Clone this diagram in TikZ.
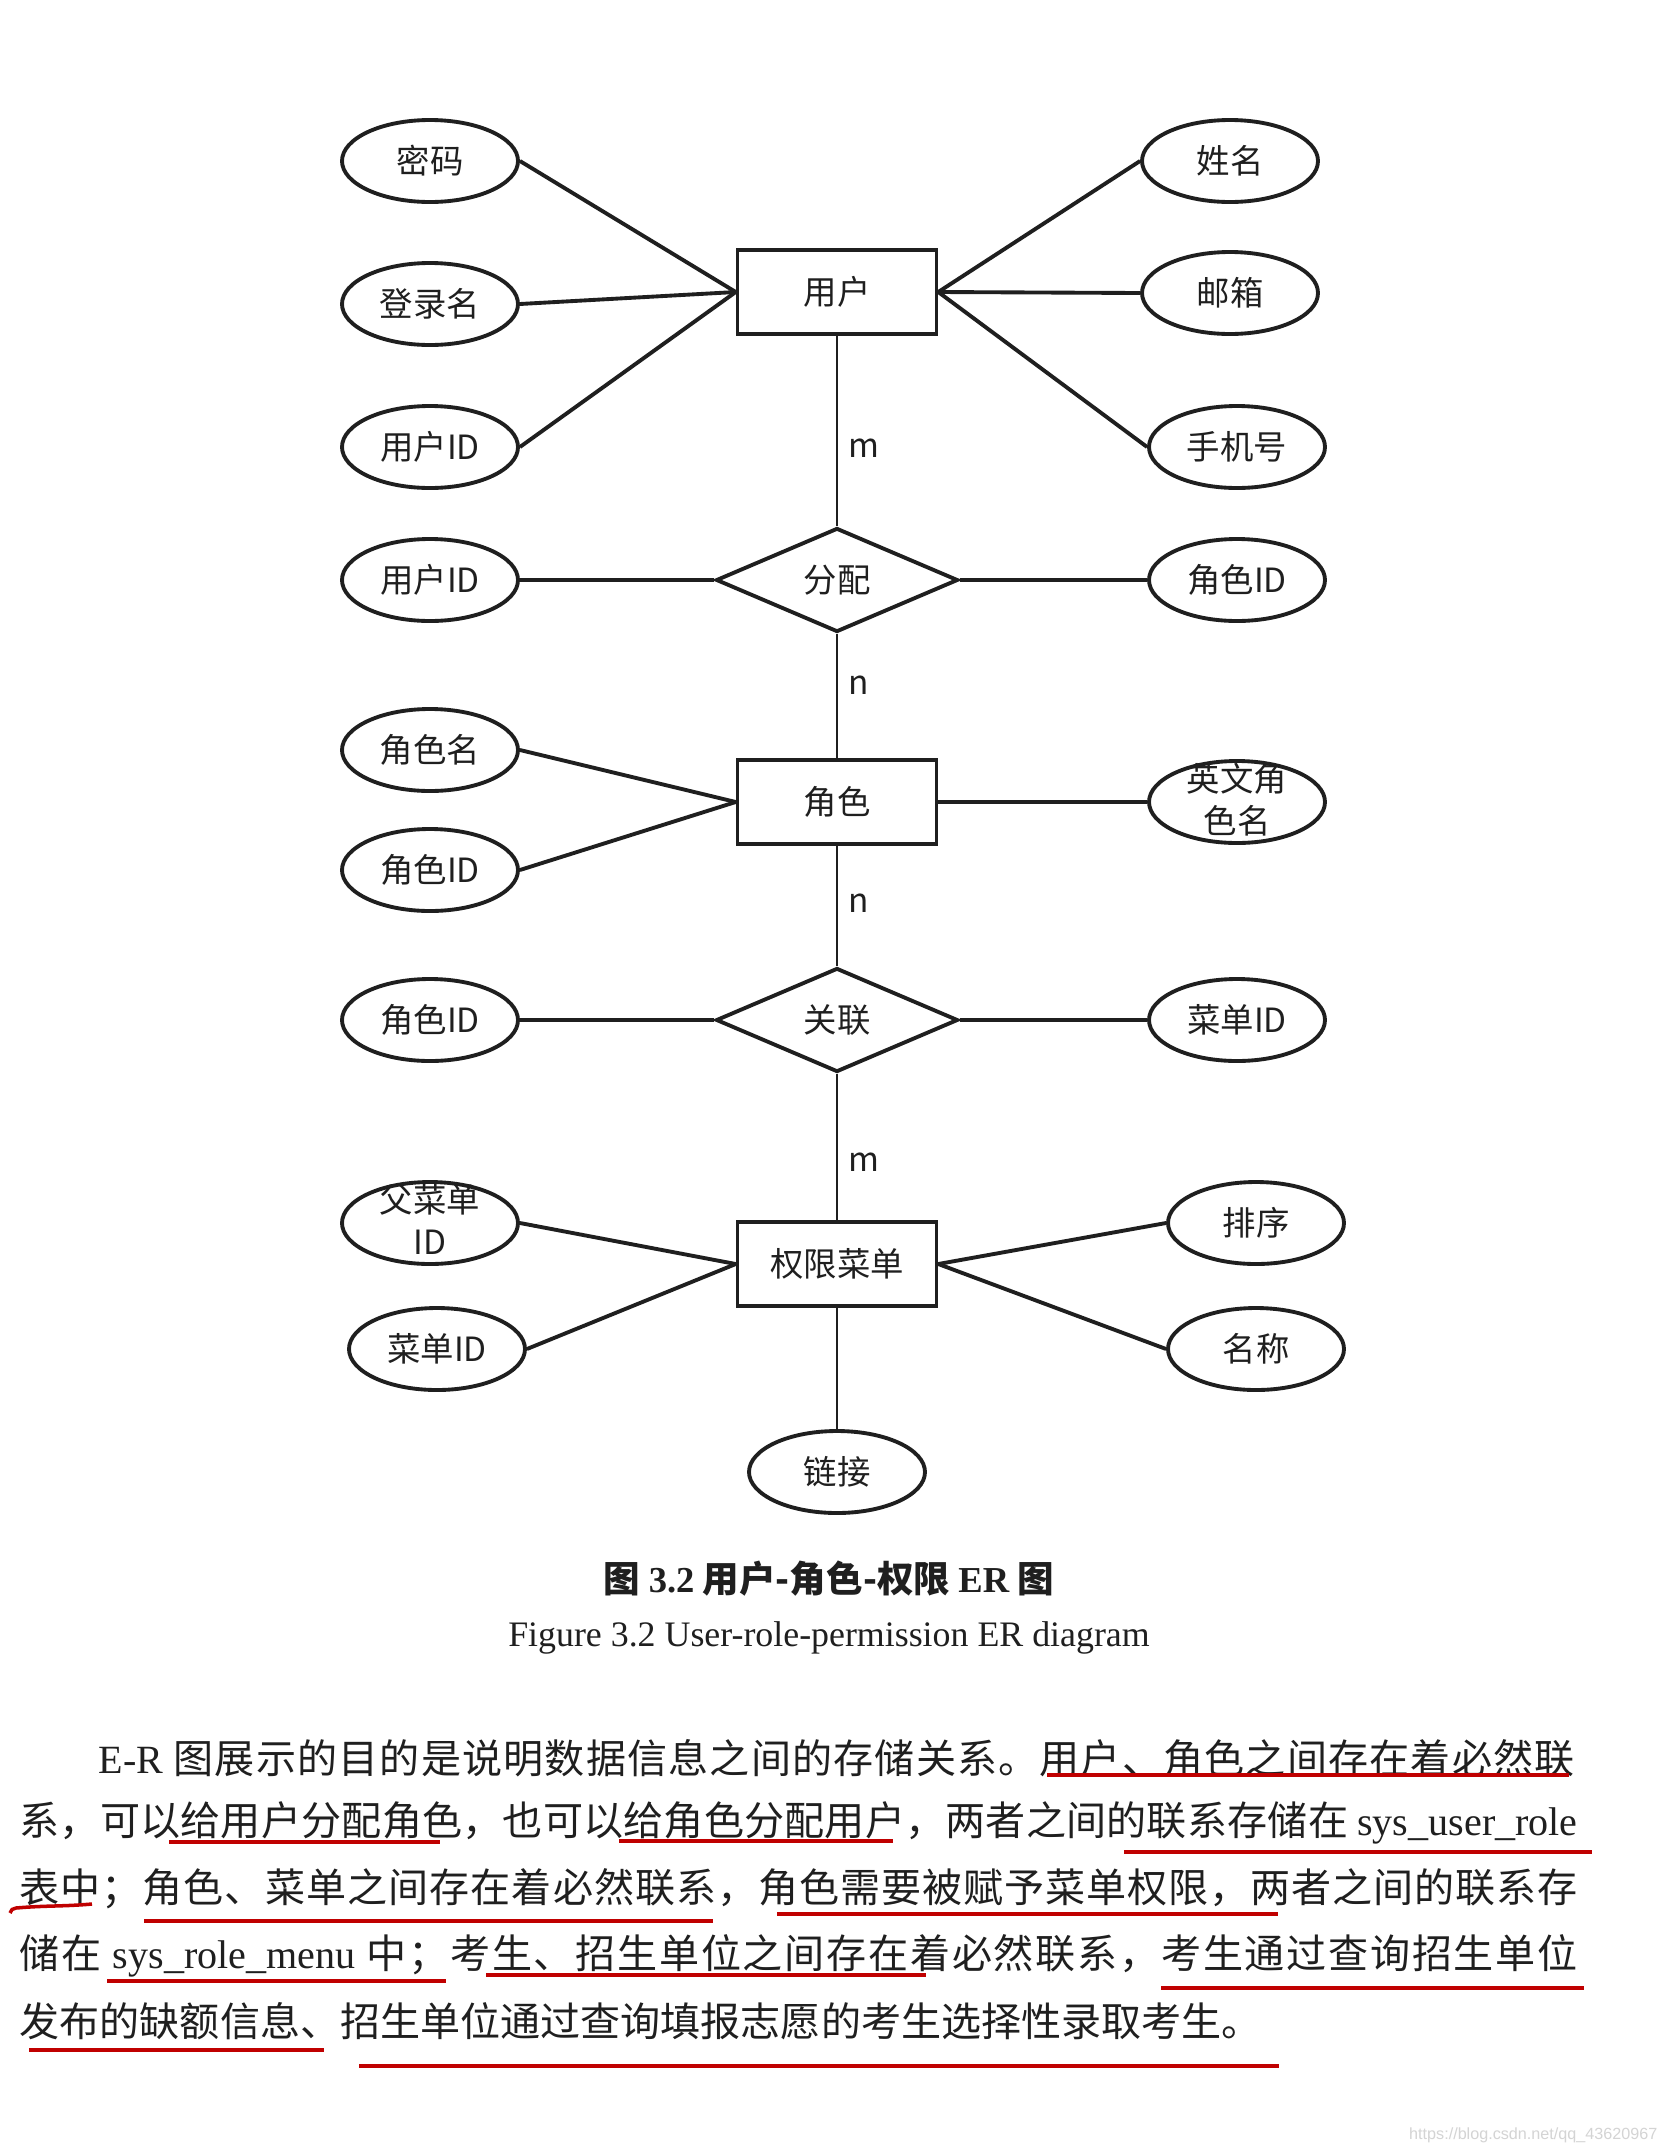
\documentclass[tikz,border=0pt]{standalone}
\usepackage{fontspec}
\setmainfont{Liberation Serif}
\setsansfont{Liberation Sans}
\newfontfamily\cjk{Noto Sans CJK SC}
\usepackage{tikz}
\usetikzlibrary{positioning,shapes.geometric}
\usepackage{xcolor}
\definecolor{ink}{HTML}{1F1F1F}
\definecolor{redpen}{HTML}{C00000}
\definecolor{wmgray}{HTML}{D4D4D4}
% stretchable glue between han characters, so a line can be set to a width
\XeTeXinterchartokenstate=1
\newXeTeXintercharclass\hancls
\count255="4E00
\loop\XeTeXcharclass\count255=\hancls\advance\count255 1 \ifnum\count255<"A000 \repeat
\count255="3000
\loop\XeTeXcharclass\count255=\hancls\advance\count255 1 \ifnum\count255<"3040 \repeat
\count255="FF00
\loop\XeTeXcharclass\count255=\hancls\advance\count255 1 \ifnum\count255<"FFF0 \repeat
\XeTeXinterchartoks\hancls\hancls={\hskip0pt plus 1pt\relax}
\newcommand{\lat}[1]{{\rmfamily #1}}
\newcommand{\twol}[2]{\smash{\raisebox{-.3em}{\begin{tabular}{@{}c@{}}#1\\#2\end{tabular}}}}

\begin{document}
\begin{tikzpicture}[x=0.1mm,y=-0.1mm,
  every node/.style={font=\cjk\fontsize{9.5}{12}\selectfont,text=ink},
  entity/.style={draw=ink,line width=1pt,minimum width=19.9mm,minimum height=8.4mm,inner sep=0pt},
  rel/.style={diamond,aspect=2.3,draw=ink,line width=1.1pt,minimum width=24.2mm,minimum height=10.4mm,inner sep=0pt},
  attr/.style={ellipse,draw=ink,line width=1.1pt,minimum width=17.6mm,minimum height=8.2mm,inner sep=0pt},
  erline/.style={draw=ink,line width=1.1pt},
  thinline/.style={draw=ink,line width=0.6pt},
  card/.style={right,inner sep=3pt},
  para/.style={anchor=west,inner sep=0pt,font=\cjk\fontsize{11.4}{13.7}\selectfont},
  uline/.style={redpen,line width=1pt}]
\fill[white] (0,0) rectangle (1668,2154);
\useasboundingbox (0,0) rectangle (1668,2154);
% entities and relations
\node[entity] (user) at (837,292) {用户};
\node[rel] (assign) at (837,580) {分配};
\node[entity] (role) at (837,802) {角色};
\node[rel] (relate) at (837,1020) {关联};
\node[entity] (menu) at (837,1264) {权限菜单};
% attributes
\foreach \n/\x/\y/\t in {pwd/430/161/密码,login/430/304/登录名,uid/430/447/用户ID,
  name/1230/161/姓名,mail/1230/293/邮箱,phone/1237/447/手机号,
  auid/430/580/用户ID,arid/1237/580/角色ID,
  rname/430/750/角色名,rid/430/870/角色ID,ename/1237/802/{\twol{英文角}{色名}},
  lrid/430/1020/角色ID,amid/1237/1020/菜单ID,
  pmid/430/1223/{\twol{父菜单}{ID}},mid/437/1349/菜单ID,
  sort/1256/1223/排序,title/1256/1349/名称,lnk/837/1472/链接}{
  \node[attr] (\n) at (\x,\y) {\t};}
\foreach \a/\b in {pwd.east/user.west,login.east/user.west,uid.east/user.west,
  name.west/user.east,mail.west/user.east,phone.west/user.east,
  auid.east/assign.west,arid.west/assign.east,
  rname.east/role.west,rid.east/role.west,ename.west/role.east,
  lrid.east/relate.west,amid.west/relate.east,
  pmid.east/menu.west,mid.east/menu.west,sort.west/menu.east,title.west/menu.east}{
  \draw[erline] (\a) -- (\b);}
% cardinalities
\draw[thinline] (user) -- node[card,pos=.59] (c1) {m} (assign);
\draw[thinline] (assign) -- node[card,pos=.41] (c2) {n} (role);
\draw[thinline] (role) -- node[card,pos=.48] (c3) {n} (relate);
\draw[thinline] (relate) -- node[card,pos=.6] (c4) {m} (menu);
\draw[thinline] (menu) -- (lnk);
% caption
\node[font=\cjk\bfseries\fontsize{10.4}{12}\selectfont] (cap1) at (829,1579)
  {图 \lat{3.2} 用户-角色-权限 \lat{ER} 图};
\node[font=\rmfamily\fontsize{10.2}{12}\selectfont] (cap2) at (829,1638)
  {Figure 3.2 User-role-permission ER diagram};
% paragraph
\node[para] (l1) at (98,1758) {\makebox[147.6mm][s]{\lat{E-R} 图展示的目的是说明数据信息之间的存储关系。用户、角色之间存在着必然联}};
\node[para] (l2) at (19,1823) {\makebox[155.8mm][s]{系，可以给用户分配角色，也可以给角色分配用户，两者之间的联系存储在 \lat{sys\_user\_role}}};
\node[para] (l3) at (19,1889) {\makebox[155.8mm][s]{表中；角色、菜单之间存在着必然联系，角色需要被赋予菜单权限，两者之间的联系存}};
\node[para] (l4) at (19,1956) {\makebox[155.8mm][s]{储在 \lat{sys\_role\_menu} 中；考生、招生单位之间存在着必然联系，考生通过查询招生单位}};
\node[para] (l5) at (19,2021) {发布的缺额信息、招生单位通过查询填报志愿的考生选择性录取考生。};
% red pen marks
\foreach \a/\b/\y in {1047/1569/1775,169/440/1842,619/893/1841,1124/1592/1852,
  144/713/1921,777/1278/1914,107/446/1981,486/926/1975,1161/1584/1988,
  29/324/2050,359/1279/2066}{
  \draw[uline] (\a,\y) -- (\b,\y);}
\draw[uline] (92,1904) to[out=185,in=5] (16,1908) to[out=185,in=80] (10,1913);
% watermark
\node[anchor=east,inner sep=0pt,text=wmgray,font=\sffamily\fontsize{4.6}{5}\selectfont] (wm) at (1658,2135)
  {https://blog.csdn.net/qq\_43620967};
\end{tikzpicture}
\end{document}
